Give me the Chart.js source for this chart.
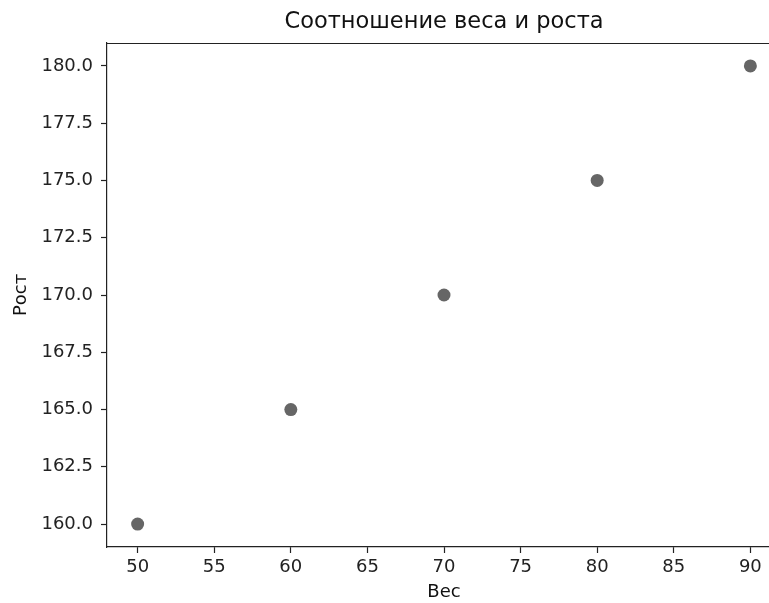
<!DOCTYPE html>
<html>
<head>
<meta charset="utf-8">
<script src="https://cdn.jsdelivr.net/npm/chart.js@4"></script>
<style>
html,body{margin:0;padding:0;background:#fff;overflow:hidden;}
#wrap{width:888px;height:603px;}
</style>
</head>
<body>
<div id="wrap"><canvas id="c" width="888" height="603" style="width:888px;height:603px"></canvas></div>
<script>
const weights = [50, 60, 70, 80, 90];
const heights = [160, 165, 170, 175, 180];
const xTicks = [50, 55, 60, 65, 70, 75, 80, 85, 90];
const yTicks = [160, 162.5, 165, 167.5, 170, 172.5, 175, 177.5, 180];
const titleText = 'Соотношение веса и роста';
const xLabel = 'Вес';
const yLabel = 'Рост';

const FONT = "'DejaVu Sans', sans-serif";

const topSpine = {
  id: 'topSpine',
  afterDraw(chart) {
    const {ctx, chartArea} = chart;
    ctx.save();
    ctx.strokeStyle = '#222';
    ctx.lineWidth = 1.2;
    ctx.beginPath();
    ctx.moveTo(chartArea.left, chartArea.top + 0.5);
    ctx.lineTo(chartArea.right, chartArea.top + 0.5);
    ctx.stroke();
    ctx.restore();
  }
};

new Chart(document.getElementById('c'), {
  type: 'scatter',
  data: {
    datasets: [{
      data: weights.map((w, i) => ({x: w, y: heights[i]})),
      backgroundColor: '#666666',
      borderWidth: 0,
      pointRadius: 6.5,
      pointHoverRadius: 6.5
    }]
  },
  options: {
    responsive: false,
    devicePixelRatio: 1,
    animation: false,
    layout: {padding: {left: 0, right: 107, top: 0, bottom: 0}},
    plugins: {
      legend: {display: false},
      tooltip: {enabled: false},
      title: {
        display: true,
        text: titleText,
        fullSize: false,
        color: '#111',
        font: {family: FONT, size: 22.5, weight: 'normal', lineHeight: 1.2},
        padding: {top: 9, bottom: 7}
      }
    },
    scales: {
      x: {
        type: 'linear',
        min: 48,
        max: 92,
        afterBuildTicks(s) { s.ticks = xTicks.map(v => ({value: v})); },
        afterFit(s) { s.height = 56; },
        ticks: {
          color: '#222',
          font: {family: FONT, size: 18},
          padding: 4,
          maxRotation: 0,
          autoSkip: false
        },
        grid: {display: true, drawOnChartArea: false, drawTicks: true, tickLength: 6, tickColor: '#222', tickWidth: 1.2},
        border: {display: true, color: '#222', width: 1.2},
        title: {display: true, text: xLabel, color: '#111', font: {family: FONT, size: 18, lineHeight: 1.2}, padding: {top: 0, bottom: 0}}
      },
      y: {
        type: 'linear',
        min: 159,
        max: 181,
        afterBuildTicks(s) { s.ticks = yTicks.map(v => ({value: v})); },
        afterFit(s) { s.width = 107; },
        ticks: {
          color: '#222',
          font: {family: FONT, size: 18},
          padding: 8,
          autoSkip: false,
          callback: v => Number(v).toFixed(1)
        },
        grid: {display: true, drawOnChartArea: false, drawTicks: true, tickLength: 6, tickColor: '#222', tickWidth: 1.2},
        border: {display: true, color: '#222', width: 1.2},
        title: {display: true, text: yLabel, color: '#111', font: {family: FONT, size: 18, lineHeight: 1.2}, padding: {top: 11, bottom: 0}}
      }
    }
  },
  plugins: [topSpine]
});
</script>
</body>
</html>
